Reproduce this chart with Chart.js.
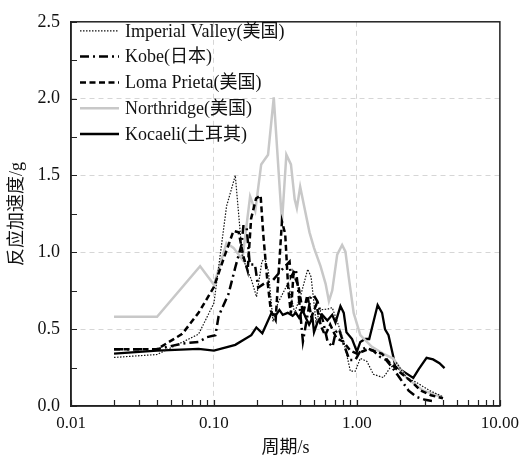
<!DOCTYPE html>
<html>
<head>
<meta charset="utf-8">
<script src="https://cdn.jsdelivr.net/npm/chart.js@4"></script>
<style>
  body { margin: 0; background: #fff; }
</style>
</head>
<body>
<canvas id="spectrum" width="526" height="459"></canvas>
<script>
// periods (s) and spectral accelerations (g)
const ivT = [0.02, 0.04, 0.078, 0.1, 0.1225, 0.141, 0.158, 0.183, 0.1985, 0.2165, 0.2265, 0.24, 0.259, 0.28, 0.33, 0.367, 0.407, 0.453, 0.478, 0.517, 0.56, 0.623, 0.672, 0.747, 0.809, 0.9, 0.975, 1.056, 1.175, 1.305, 1.531, 1.704, 1.897, 2.224, 2.61, 3.23, 4.0];
const ivA = [0.316, 0.335, 0.467, 0.67, 1.30, 1.50, 0.97, 0.82, 0.71, 0.94, 0.96, 0.88, 0.55, 0.67, 0.80, 0.606, 0.73, 0.89, 0.84, 0.55, 0.627, 0.63, 0.64, 0.52, 0.42, 0.227, 0.227, 0.31, 0.29, 0.206, 0.185, 0.248, 0.28, 0.185, 0.153, 0.10, 0.06];

const kobeT = [0.02, 0.04, 0.06, 0.078, 0.0895, 0.1023, 0.1078, 0.1265, 0.1408, 0.156, 0.1606, 0.169, 0.178, 0.1936, 0.204, 0.227, 0.259, 0.294, 0.338, 0.345, 0.374, 0.386, 0.419, 0.475, 0.50, 0.53, 0.58, 0.623, 0.675, 0.71, 0.75, 0.81, 0.886, 0.975, 1.06, 1.15, 1.3, 1.45, 1.6, 1.8, 2.0, 2.3, 2.6, 3.0, 3.5];
const kobeA = [0.37, 0.37, 0.406, 0.417, 0.448, 0.46, 0.585, 0.73, 0.90, 1.05, 1.17, 1.17, 0.92, 0.92, 0.77, 0.80, 0.82, 0.88, 0.94, 0.84, 0.89, 0.78, 0.42, 0.71, 0.72, 0.68, 0.55, 0.42, 0.385, 0.48, 0.50, 0.40, 0.30, 0.30, 0.36, 0.38, 0.36, 0.32, 0.30, 0.24, 0.18, 0.10, 0.06, 0.04, 0.03];

const lomaT = [0.02, 0.04, 0.06, 0.078, 0.1, 0.117, 0.137, 0.149, 0.16, 0.172, 0.182, 0.197, 0.212, 0.222, 0.235, 0.25, 0.27, 0.299, 0.315, 0.33, 0.345, 0.36, 0.39, 0.42, 0.45, 0.48, 0.52, 0.56, 0.6, 0.65, 0.72, 0.8, 0.9, 1.0, 1.2, 1.5, 1.7, 2.0, 2.4, 2.8, 3.3, 4.0];
const lomaA = [0.37, 0.37, 0.469, 0.606, 0.775, 0.96, 1.14, 1.13, 0.98, 0.88, 1.22, 1.35, 1.37, 1.1, 0.84, 0.62, 0.56, 1.2, 1.12, 0.78, 0.6, 0.86, 0.78, 0.6, 0.72, 0.58, 0.66, 0.52, 0.46, 0.53, 0.44, 0.42, 0.36, 0.34, 0.37, 0.34, 0.28, 0.22, 0.16, 0.10, 0.07, 0.05];

const northT = [0.02, 0.04, 0.08, 0.1, 0.1225, 0.137, 0.158, 0.179, 0.1945, 0.214, 0.239, 0.262, 0.299, 0.321, 0.3455, 0.367, 0.38, 0.401, 0.43, 0.466, 0.501, 0.557, 0.604, 0.637, 0.672, 0.728, 0.788, 0.831, 0.876, 0.949, 1.056, 1.273, 1.524, 1.796, 2.224, 2.90, 3.97];
const northA = [0.581, 0.581, 0.909, 0.789, 1.061, 1.029, 0.953, 1.364, 1.269, 1.572, 1.635, 2.008, 1.193, 1.635, 1.572, 1.345, 1.288, 1.427, 1.288, 1.130, 1.029, 0.909, 0.795, 0.682, 0.751, 0.985, 1.048, 1.004, 0.840, 0.606, 0.461, 0.385, 0.341, 0.309, 0.183, 0.101, 0.057];

const kocT = [0.02, 0.04, 0.078, 0.1, 0.141, 0.1825, 0.198, 0.218, 0.251, 0.272, 0.287, 0.303, 0.328, 0.355, 0.374, 0.394, 0.416, 0.439, 0.463, 0.489, 0.501, 0.529, 0.573, 0.621, 0.672, 0.708, 0.767, 0.809, 0.845, 0.925, 1.0, 1.056, 1.143, 1.219, 1.396, 1.50, 1.573, 1.663, 1.796, 1.855, 2.097, 2.479, 2.707, 3.07, 3.41, 3.78, 4.1];
const kocA = [0.341, 0.360, 0.372, 0.360, 0.398, 0.461, 0.511, 0.473, 0.600, 0.593, 0.625, 0.593, 0.606, 0.587, 0.606, 0.574, 0.625, 0.574, 0.530, 0.574, 0.480, 0.543, 0.593, 0.556, 0.593, 0.543, 0.650, 0.606, 0.480, 0.436, 0.354, 0.417, 0.436, 0.436, 0.657, 0.606, 0.499, 0.461, 0.322, 0.259, 0.227, 0.183, 0.240, 0.313, 0.303, 0.278, 0.246];

const seriesNames = ['Imperial Valley(美国)', 'Kobe(日本)', 'Loma Prieta(美国)', 'Northridge(美国)', 'Kocaeli(土耳其)'];
const xTickLabels = ['0.01', '0.10', '1.00', '10.00'];
const yTickLabels = ['0.0', '0.5', '1.0', '1.5', '2.0', '2.5'];

const FONT = "'Liberation Serif', 'Noto Sans CJK SC', serif";

function pts(t, a) {
    return t.map((v, i) => ({x: v, y: a[i]}));
}

// inward ticks, closed frame and the line legend in the upper left
const framePlugin = {
    id: 'frame',
    afterDraw(chart) {
        const ctx = chart.ctx;
        const area = chart.chartArea;
        const xs = chart.scales.x, ys = chart.scales.y;
        ctx.save();
        ctx.strokeStyle = '#222';
        ctx.lineWidth = 1.2;
        ctx.beginPath();
        xs.ticks.forEach(t => {
            const px = Math.round(xs.getPixelForValue(t.value)) + 0.5;
            ctx.moveTo(px, area.bottom);
            ctx.lineTo(px, area.bottom - 6);
        });
        ys.ticks.forEach(t => {
            const py = Math.round(ys.getPixelForValue(t.value)) + 0.5;
            ctx.moveTo(area.left, py);
            ctx.lineTo(area.left + 6, py);
        });
        ctx.stroke();
        ctx.lineWidth = 1.5;
        ctx.strokeRect(area.left, area.top, area.right - area.left, area.bottom - area.top);

        // legend
        ctx.font = '18px ' + FONT;
        ctx.textBaseline = 'middle';
        ctx.fillStyle = '#111';
        chart.data.datasets.forEach((ds, i) => {
            const y = area.top + 9 + i * 25.8;
            ctx.strokeStyle = ds.borderColor;
            ctx.lineWidth = ds.borderWidth;
            ctx.setLineDash(ds.borderDash || []);
            ctx.beginPath();
            ctx.moveTo(area.left + 9, y);
            ctx.lineTo(area.left + 48, y);
            ctx.stroke();
            ctx.setLineDash([]);
            ctx.fillText(ds.label, area.left + 54, y + 1);
        });
        ctx.restore();
    }
};

const ctx = document.getElementById('spectrum').getContext('2d');
const chart = new Chart(ctx, {
    type: 'line',
    data: {
        datasets: [
            {label: seriesNames[0], data: pts(ivT, ivA), borderColor: '#111', borderWidth: 1.2, borderDash: [1.5, 1.5]},
            {label: seriesNames[1], data: pts(kobeT, kobeA), borderColor: '#000', borderWidth: 2.5, borderDash: [9, 4, 2, 4]},
            {label: seriesNames[2], data: pts(lomaT, lomaA), borderColor: '#000', borderWidth: 2.5, borderDash: [6, 3.5]},
            {label: seriesNames[3], data: pts(northT, northA), borderColor: '#c8c8c8', borderWidth: 2.5, borderDash: []},
            {label: seriesNames[4], data: pts(kocT, kocA), borderColor: '#000', borderWidth: 2.3, borderDash: []}
        ]
    },
    options: {
        responsive: false,
        animation: false,
        layout: { padding: { top: 10, right: 22, left: 0, bottom: 0 } },
        elements: {
            point: { radius: 0 },
            line: { tension: 0, fill: false }
        },
        plugins: {
            legend: { display: false },
            tooltip: { enabled: false }
        },
        scales: {
            x: {
                type: 'logarithmic',
                min: 0.01,
                max: 10,
                afterFit: s => { s.height = 53; },
                afterBuildTicks: s => {
                    const ticks = [];
                    for (let e = -2; e < 1; e++) {
                        for (let m = 1; m < 10; m++) ticks.push({value: m * Math.pow(10, e)});
                    }
                    ticks.push({value: 10});
                    s.ticks = ticks;
                },
                ticks: {
                    autoSkip: false,
                    maxRotation: 0,
                    padding: 7,
                    color: '#111',
                    font: { family: FONT, size: 17 },
                    callback: function (v) {
                        const k = Math.round(Math.log10(v)) + 2;
                        return Math.abs(Math.log10(v) - Math.round(Math.log10(v))) < 1e-6 ? xTickLabels[k] : '';
                    }
                },
                grid: {
                    drawTicks: false,
                    color: c => (c.tick && (Math.abs(c.tick.value - 0.1) < 1e-9 || Math.abs(c.tick.value - 1) < 1e-9)) ? '#d6d6d6' : 'transparent',
                    lineWidth: 1
                },
                border: { display: true, color: '#222', width: 1.5, dash: [5, 4] },
                title: {
                    display: true,
                    text: '周期/s',
                    color: '#111',
                    font: { family: FONT, size: 18 },
                    padding: { top: 0, bottom: 0 }
                }
            },
            y: {
                min: 0,
                max: 2.5,
                afterFit: s => { s.width = 71; },
                ticks: {
                    stepSize: 0.25,
                    autoSkip: false,
                    padding: 11,
                    color: '#111',
                    font: { family: FONT, size: 18 },
                    callback: v => {
                        const k = v / 0.5;
                        return Math.abs(k - Math.round(k)) < 1e-6 ? yTickLabels[Math.round(k)] : '';
                    }
                },
                grid: {
                    drawTicks: false,
                    color: c => {
                        const v = c.tick ? c.tick.value : 0;
                        const k = v / 0.5;
                        return (v > 0.01 && v < 2.49 && Math.abs(k - Math.round(k)) < 1e-6) ? '#d6d6d6' : 'transparent';
                    },
                    lineWidth: 1
                },
                border: { display: true, color: '#222', width: 1.5, dash: [5, 4] },
                title: {
                    display: true,
                    text: '反应加速度/g',
                    color: '#111',
                    font: { family: FONT, size: 18 },
                    padding: { top: 6, bottom: 0 }
                }
            }
        }
    },
    plugins: [framePlugin]
});
</script>
</body>
</html>
